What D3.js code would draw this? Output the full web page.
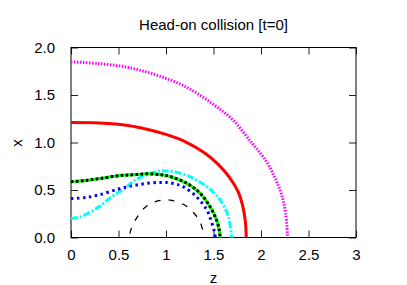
<!DOCTYPE html>
<html>
<head>
<meta charset="utf-8">
<script src="https://cdn.jsdelivr.net/npm/d3@7"></script>
<style>
body { margin: 0; background: #fff; }
text { font-family: "Liberation Sans", Arial, sans-serif; fill: #000; }
</style>
</head>
<body>
<svg id="chart" width="407" height="285"></svg>
<script>
// valeurs (z, x)
var magentaZ = [0, 0.3, 0.6, 0.9, 1.2, 1.5, 1.7, 1.9, 2.05, 2.15, 2.22, 2.26, 2.28];
var magentaX = [1.85, 1.83, 1.79, 1.71, 1.59, 1.40, 1.24, 1.0, 0.81, 0.62, 0.44, 0.25, 0];

var redZ = [0, 0.3, 0.6, 0.8, 1.0, 1.2, 1.4, 1.55, 1.67, 1.76, 1.81, 1.835, 1.845];
var redX = [1.21, 1.205, 1.18, 1.14, 1.085, 1.01, 0.895, 0.77, 0.63, 0.48, 0.32, 0.17, 0];

var cyanZ = [0, 0.07, 0.15, 0.29, 0.43, 0.57, 0.67, 0.8, 0.93, 1.0, 1.1, 1.25, 1.43, 1.57, 1.656, 1.69];
var cyanX = [0.20, 0.21, 0.24, 0.32, 0.43, 0.52, 0.60, 0.66, 0.70, 0.70, 0.69, 0.64, 0.535, 0.395, 0.22, 0];

var greenZ = [0, 0.15, 0.3, 0.5, 0.65, 0.8, 0.95, 1.05, 1.22, 1.36, 1.46, 1.53, 1.56, 1.57];
var greenX = [0.587, 0.60, 0.62, 0.65, 0.66, 0.67, 0.66, 0.64, 0.57, 0.465, 0.33, 0.19, 0.08, 0];

var blueZ = [0, 0.15, 0.3, 0.5, 0.65, 0.8, 0.95, 1.05, 1.18, 1.32, 1.43, 1.48, 1.51, 1.52];
var blueX = [0.41, 0.42, 0.45, 0.51, 0.545, 0.57, 0.58, 0.575, 0.535, 0.43, 0.29, 0.16, 0.06, 0];

var dashZ = [0.62, 0.64, 0.70, 0.76, 0.88, 1.0, 1.06, 1.2, 1.3, 1.36, 1.40];
var dashX = [0.04, 0.11, 0.22, 0.30, 0.375, 0.395, 0.39, 0.34, 0.25, 0.16, 0.03];

var zTicks = [0, 0.5, 1, 1.5, 2, 2.5, 3];
var zTickLabels = ["0", "0.5", "1", "1.5", "2", "2.5", "3"];
var xTicks = [0, 0.5, 1, 1.5, 2];
var xTickLabels = ["0.0", "0.5", "1.0", "1.5", "2.0"];

// attention: "top" est deja pris par window.top
var plotLeft = 71, plotRight = 356, plotTop = 47.5, plotBottom = 237.5;

var svg = d3.select("#chart");
var sz = d3.scaleLinear().domain([0, 3]).range([plotLeft, plotRight]);
var sx = d3.scaleLinear().domain([0, 2]).range([plotBottom, plotTop]);

function pts(zs, xs){
  return zs.map(function(z, i){ return [z, xs[i]]; });
}

var line = d3.line()
  .x(function(d){ return sz(d[0]); })
  .y(function(d){ return sx(d[1]); })
  .curve(d3.curveCatmullRom.alpha(0.5));

// axes avec ticks vers l'interieur
var tickLen = 7;
svg.append("g").attr("transform", "translate(0," + plotBottom + ")")
  .call(d3.axisBottom(sz).tickValues(zTicks).tickSizeInner(-tickLen).tickSizeOuter(0)
    .tickPadding(12).tickFormat(function(d, i){ return zTickLabels[i]; }));
svg.append("g").attr("transform", "translate(0," + plotTop + ")")
  .call(d3.axisTop(sz).tickValues(zTicks).tickSizeInner(-tickLen).tickSizeOuter(0).tickFormat(""));
svg.append("g").attr("transform", "translate(" + plotLeft + ",0)")
  .call(d3.axisLeft(sx).tickValues(xTicks).tickSizeInner(-tickLen).tickSizeOuter(0)
    .tickPadding(16).tickFormat(function(d, i){ return xTickLabels[i]; }));
svg.append("g").attr("transform", "translate(" + plotRight + ",0)")
  .call(d3.axisRight(sx).tickValues(xTicks).tickSizeInner(-tickLen).tickSizeOuter(0).tickFormat(""));

svg.selectAll(".domain").remove();
svg.selectAll(".tick line").attr("stroke", "#222");
svg.selectAll(".tick text").style("font-size", "15px").style("font-family", "Liberation Sans, Arial, sans-serif").attr("fill", "#000");

svg.append("rect")
  .attr("x", plotLeft).attr("y", plotTop)
  .attr("width", plotRight - plotLeft).attr("height", plotBottom - plotTop)
  .attr("fill", "none").attr("stroke", "#000").attr("stroke-width", 1);

// courbes
var series = [
  { d: pts(magentaZ, magentaX), c: "#ff00ff", w: 3, dash: "1.5,1.5" },
  { d: pts(redZ, redX), c: "#ff0000", w: 3, dash: null },
  { d: pts(cyanZ, cyanX), c: "#00ffff", w: 3, dash: "7,2,2,2" },
  { d: pts(greenZ, greenX), c: "#00ff00", w: 3, dash: null },
  { d: pts(greenZ, greenX), c: "#000000", w: 3, dash: "2.5,2.5" },
  { d: pts(blueZ, blueX), c: "#0000ff", w: 3, dash: "2.5,3.5" },
  { d: pts(dashZ, dashX), c: "#000000", w: 1.3, dash: "6,8" }
];

series.forEach(function(s){
  svg.append("path")
    .datum(s.d)
    .attr("d", line)
    .attr("fill", "none")
    .attr("stroke", s.c)
    .attr("stroke-width", s.w)
    .attr("stroke-dasharray", s.dash);
});

// titre et labels
svg.append("text").attr("x", 213.5).attr("y", 29.5).attr("text-anchor", "middle")
  .style("font-size", "15px").text("Head-on collision [t=0]");
svg.append("text").attr("x", 213.5).attr("y", 283).attr("text-anchor", "middle")
  .style("font-size", "15px").text("z");
svg.append("text").attr("transform", "translate(21.5,143) rotate(-90)").attr("text-anchor", "middle")
  .style("font-size", "15px").text("x");
</script>
</body>
</html>
